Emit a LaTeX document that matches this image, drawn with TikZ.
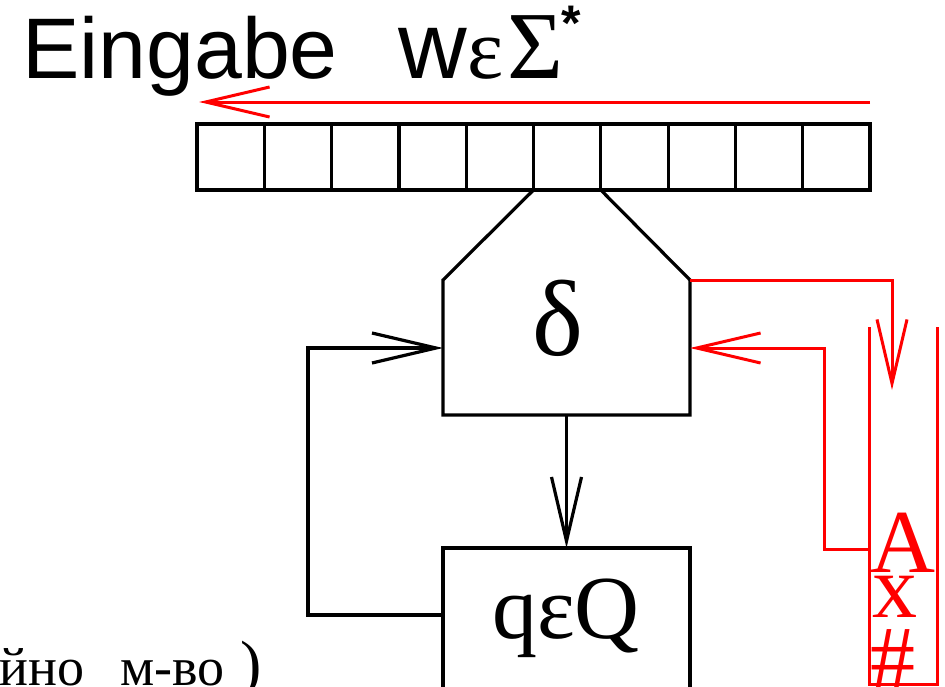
\documentclass[tikz,border=0pt]{standalone}
\usepackage{fontspec}
\setmainfont{Liberation Serif}
\newfontfamily\sansf{Liberation Sans}
\usetikzlibrary{arrows.meta}
\begin{document}
\begin{tikzpicture}[x=1pt,y=-1pt,
  blk/.style={line width=3.2pt,draw=black},
  rd/.style={line width=3pt,draw=red},
  barb/.style={-{Straight Barb[length=64pt,width=30pt]}},
  cell/.style={draw,line width=3.2pt,minimum width=67.3pt,minimum height=66pt,inner sep=0pt,outer sep=0pt,anchor=north west},
  big/.style={inner sep=0pt,font=\fontsize{90}{90}\selectfont},
  stk/.style={inner sep=0pt,text=red,anchor=base west,font=\fontsize{90}{90}\selectfont},
  ttl/.style={inner sep=0pt,anchor=base west}
]
\useasboundingbox (0,0) rectangle (945,686);
\clip (0,0) rectangle (945,686);
% title
\node[ttl,font=\sansf\fontsize{86}{86}\selectfont] (tE) at (22,78) {Eingabe};
\node[ttl,font=\sansf\fontsize{95}{95}\selectfont] (tw) at (398,78) {w};
\node[ttl,font=\fontsize{86}{86}\selectfont] (te) at (tw.base east) {ε};
\node[ttl,font=\fontsize{96}{96}\selectfont] (tS) at ([xshift=4pt]te.base east) {Σ};
\node[ttl,font=\sansf\bfseries\fontsize{50}{50}\selectfont] (tst) at ([xshift=-3pt,yshift=38pt]tS.base east) {*};
% input arrow
\coordinate (inR) at (870,102);
\coordinate (inL) at (199,102);
\draw[rd,barb] (inR) -- (inL);
% tape
\foreach \i in {0,...,9}{
  \node[cell] (c\i) at (197+67.3*\i,124) {};
}
% delta unit
\coordinate (d3) at (690,280);
\coordinate (d4) at (690,415);
\coordinate (d5) at (443,415);
\coordinate (d6) at (443,280);
\draw[blk,line join=miter] (c5.south west) -- (d6) -- (d5) -- (d4) -- (d3) -- (c5.south east);
\node[inner sep=0pt,font=\fontsize{108}{108}\selectfont] (delta) at (558,318) {δ};
\coordinate (dbot) at (566.5,415);
\coordinate (dl) at (443,348);
\coordinate (dr) at (690,348);
% state box
\node[draw,line width=3.2pt,minimum width=247pt,minimum height=160pt,inner sep=0pt,outer sep=0pt,anchor=north] (Q) at (566.5,548) {};
\node[big] (Qt) at (566,618) {qεQ};
\draw[blk,barb] (dbot) -- (Q.north);
\coordinate (qw) at (443,615);
\draw[blk,barb] (qw) -- (308,615) -- (308,348) -- (dl);
% stack
\coordinate (sTL) at (869,327);
\coordinate (sBL) at (869,684);
\coordinate (sBR) at (937,684);
\coordinate (sTR) at (937,327);
\draw[rd] (sTL) -- (sBL) -- (sBR) -- (sTR);
\coordinate (sin) at (892,390);
\draw[rd,barb] (d3) -- (892,280) -- (sin);
\coordinate (sout) at (869,549);
\draw[rd,barb] (sout) -- (824,549) -- (824,348) -- (dr);
\node[stk] (sA) at (870,572) {A};
\node[stk] (sx) at (872,617) {x};
\node[stk] (sh) at (870,688) {\#};
% cyrillic note
\node[anchor=base east,inner sep=0pt,font=\fontsize{54}{54}\selectfont] (note) at (262,685) {йно\hspace{36pt}м-во\hspace{16pt}{\fontsize{64}{64}\selectfont)}};
\end{tikzpicture}
\end{document}
